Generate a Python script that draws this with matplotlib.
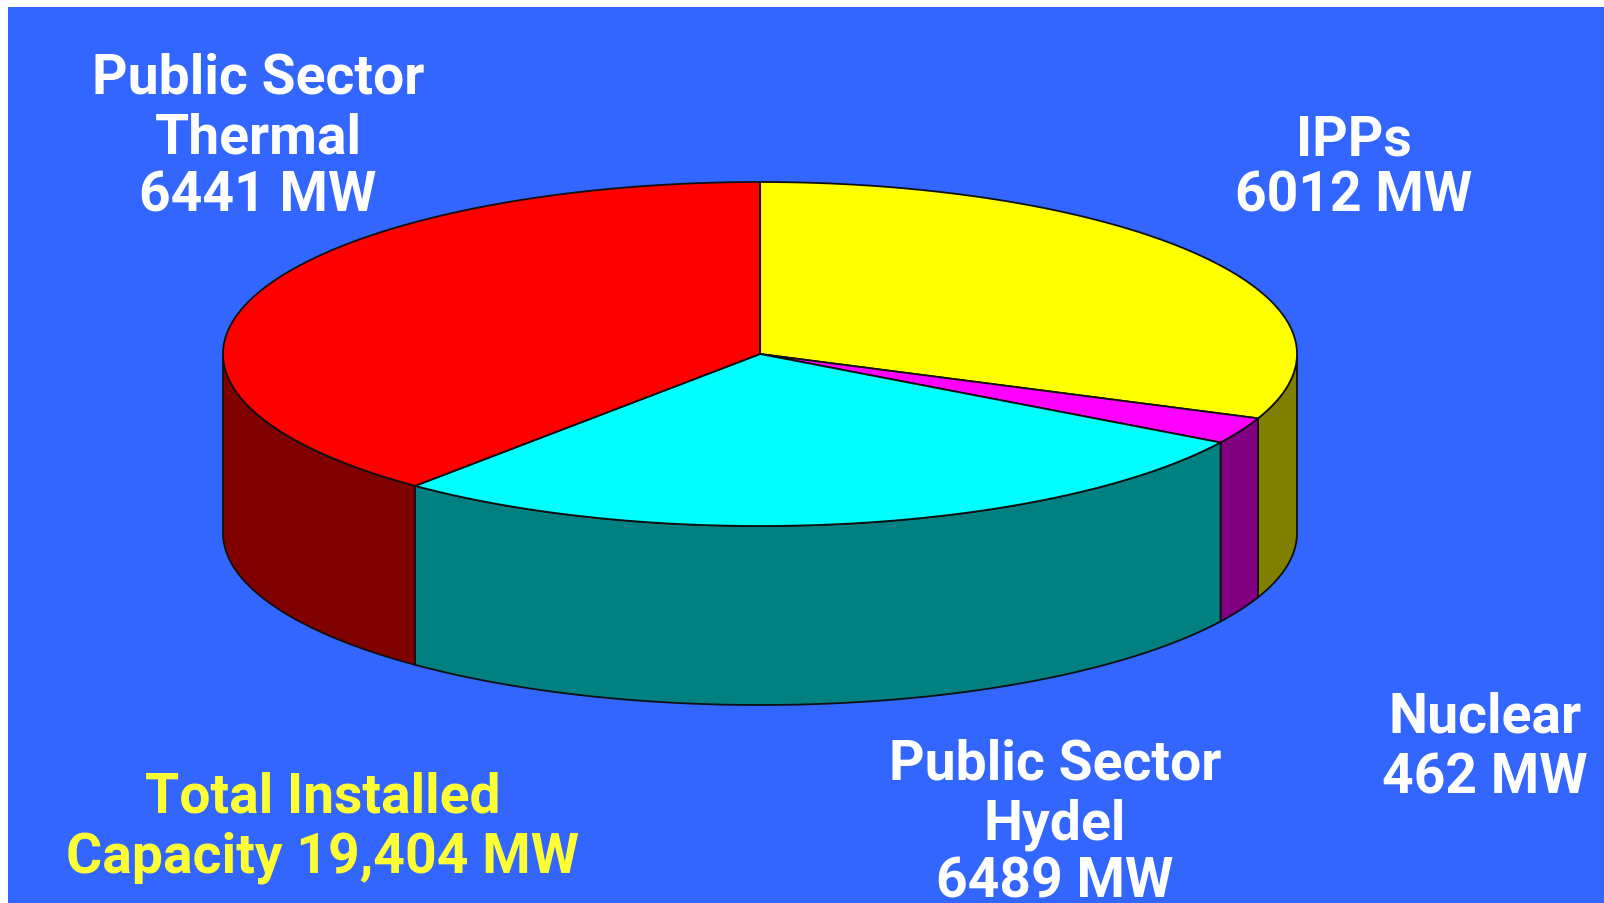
import numpy as np
import matplotlib
matplotlib.use("Agg")
import matplotlib.pyplot as plt
from matplotlib.patches import Rectangle

# Data
categories = ["IPPs", "Nuclear", "Public Sector\nHydel", "Public Sector\nThermal"]
capacity_mw = [6012, 462, 6489, 6441]
# Slice shares as they appear on the tilted pie (percent of the rim)
drawn_share_pct = [31.1, 2.5, 27.5, 38.9]
top_colors = ["#FFFF00", "#FF00FF", "#00FFFF", "#FF0000"]
side_colors = ["#808000", "#800080", "#008080", "#800000"]
total_label = "Total Installed\nCapacity 19,404 MW"

# Layout
W, H = 1604, 904
CX, CY, RX, RY, DEPTH = 760, 355, 537, 172, 179
BG = "#3366FF"
FONT = "Roboto"
FS = 39.8

fig = plt.figure(figsize=(W / 100, H / 100), dpi=100, facecolor="white")
ax = fig.add_axes([0, 0, 1, 1])
ax.set_xlim(0, W)
ax.set_ylim(H, 0)
ax.axis("off")
ax.add_patch(Rectangle((8, 8), W - 8, H - 8, fc=BG, ec="none", zorder=0))


def rim(t, dy=0.0):
    return CX + RX * np.cos(t), CY - RY * np.sin(t) + dy


edges = 90 - np.cumsum([0] + drawn_share_pct) * 3.6
for i in range(len(categories)):
    a0, a1 = np.radians(edges[i]), np.radians(edges[i + 1])
    t = np.linspace(a0, a1, 240)
    # side wall: only the front half of the rim shows
    front = t[np.sin(t) <= 0]
    if front.size > 1:
        x, y = rim(front)
        xb, yb = rim(front[::-1], DEPTH)
        ax.fill(np.r_[x, xb], np.r_[y, yb], fc=side_colors[i], ec="#101010",
                lw=1.3, joinstyle="round", zorder=2)
    # top surface
    x, y = rim(t)
    ax.fill(np.r_[CX, x], np.r_[CY, y], fc=top_colors[i], ec="#101010",
            lw=1.3, joinstyle="round", zorder=3)

label_style = dict(family=FONT, fontweight="bold", fontsize=FS, ha="center",
                   va="baseline", zorder=5)


def stacked(cx, ys, lines, color="white"):
    for yy, s in zip(ys, lines):
        ax.text(cx, yy, s, color=color, **label_style)


def lines_for(i):
    return categories[i].split("\n") + [f"{capacity_mw[i]} MW"]


stacked(1354, [156, 212], lines_for(0))
stacked(1485, [733, 794], lines_for(1))
stacked(1055, [780, 840, 898], lines_for(2))
stacked(258, [93, 154, 212], lines_for(3))
stacked(323, [813, 873], total_label.split("\n"), color="#FFFF33")

fig.savefig("out.png", dpi=100, facecolor="white")
